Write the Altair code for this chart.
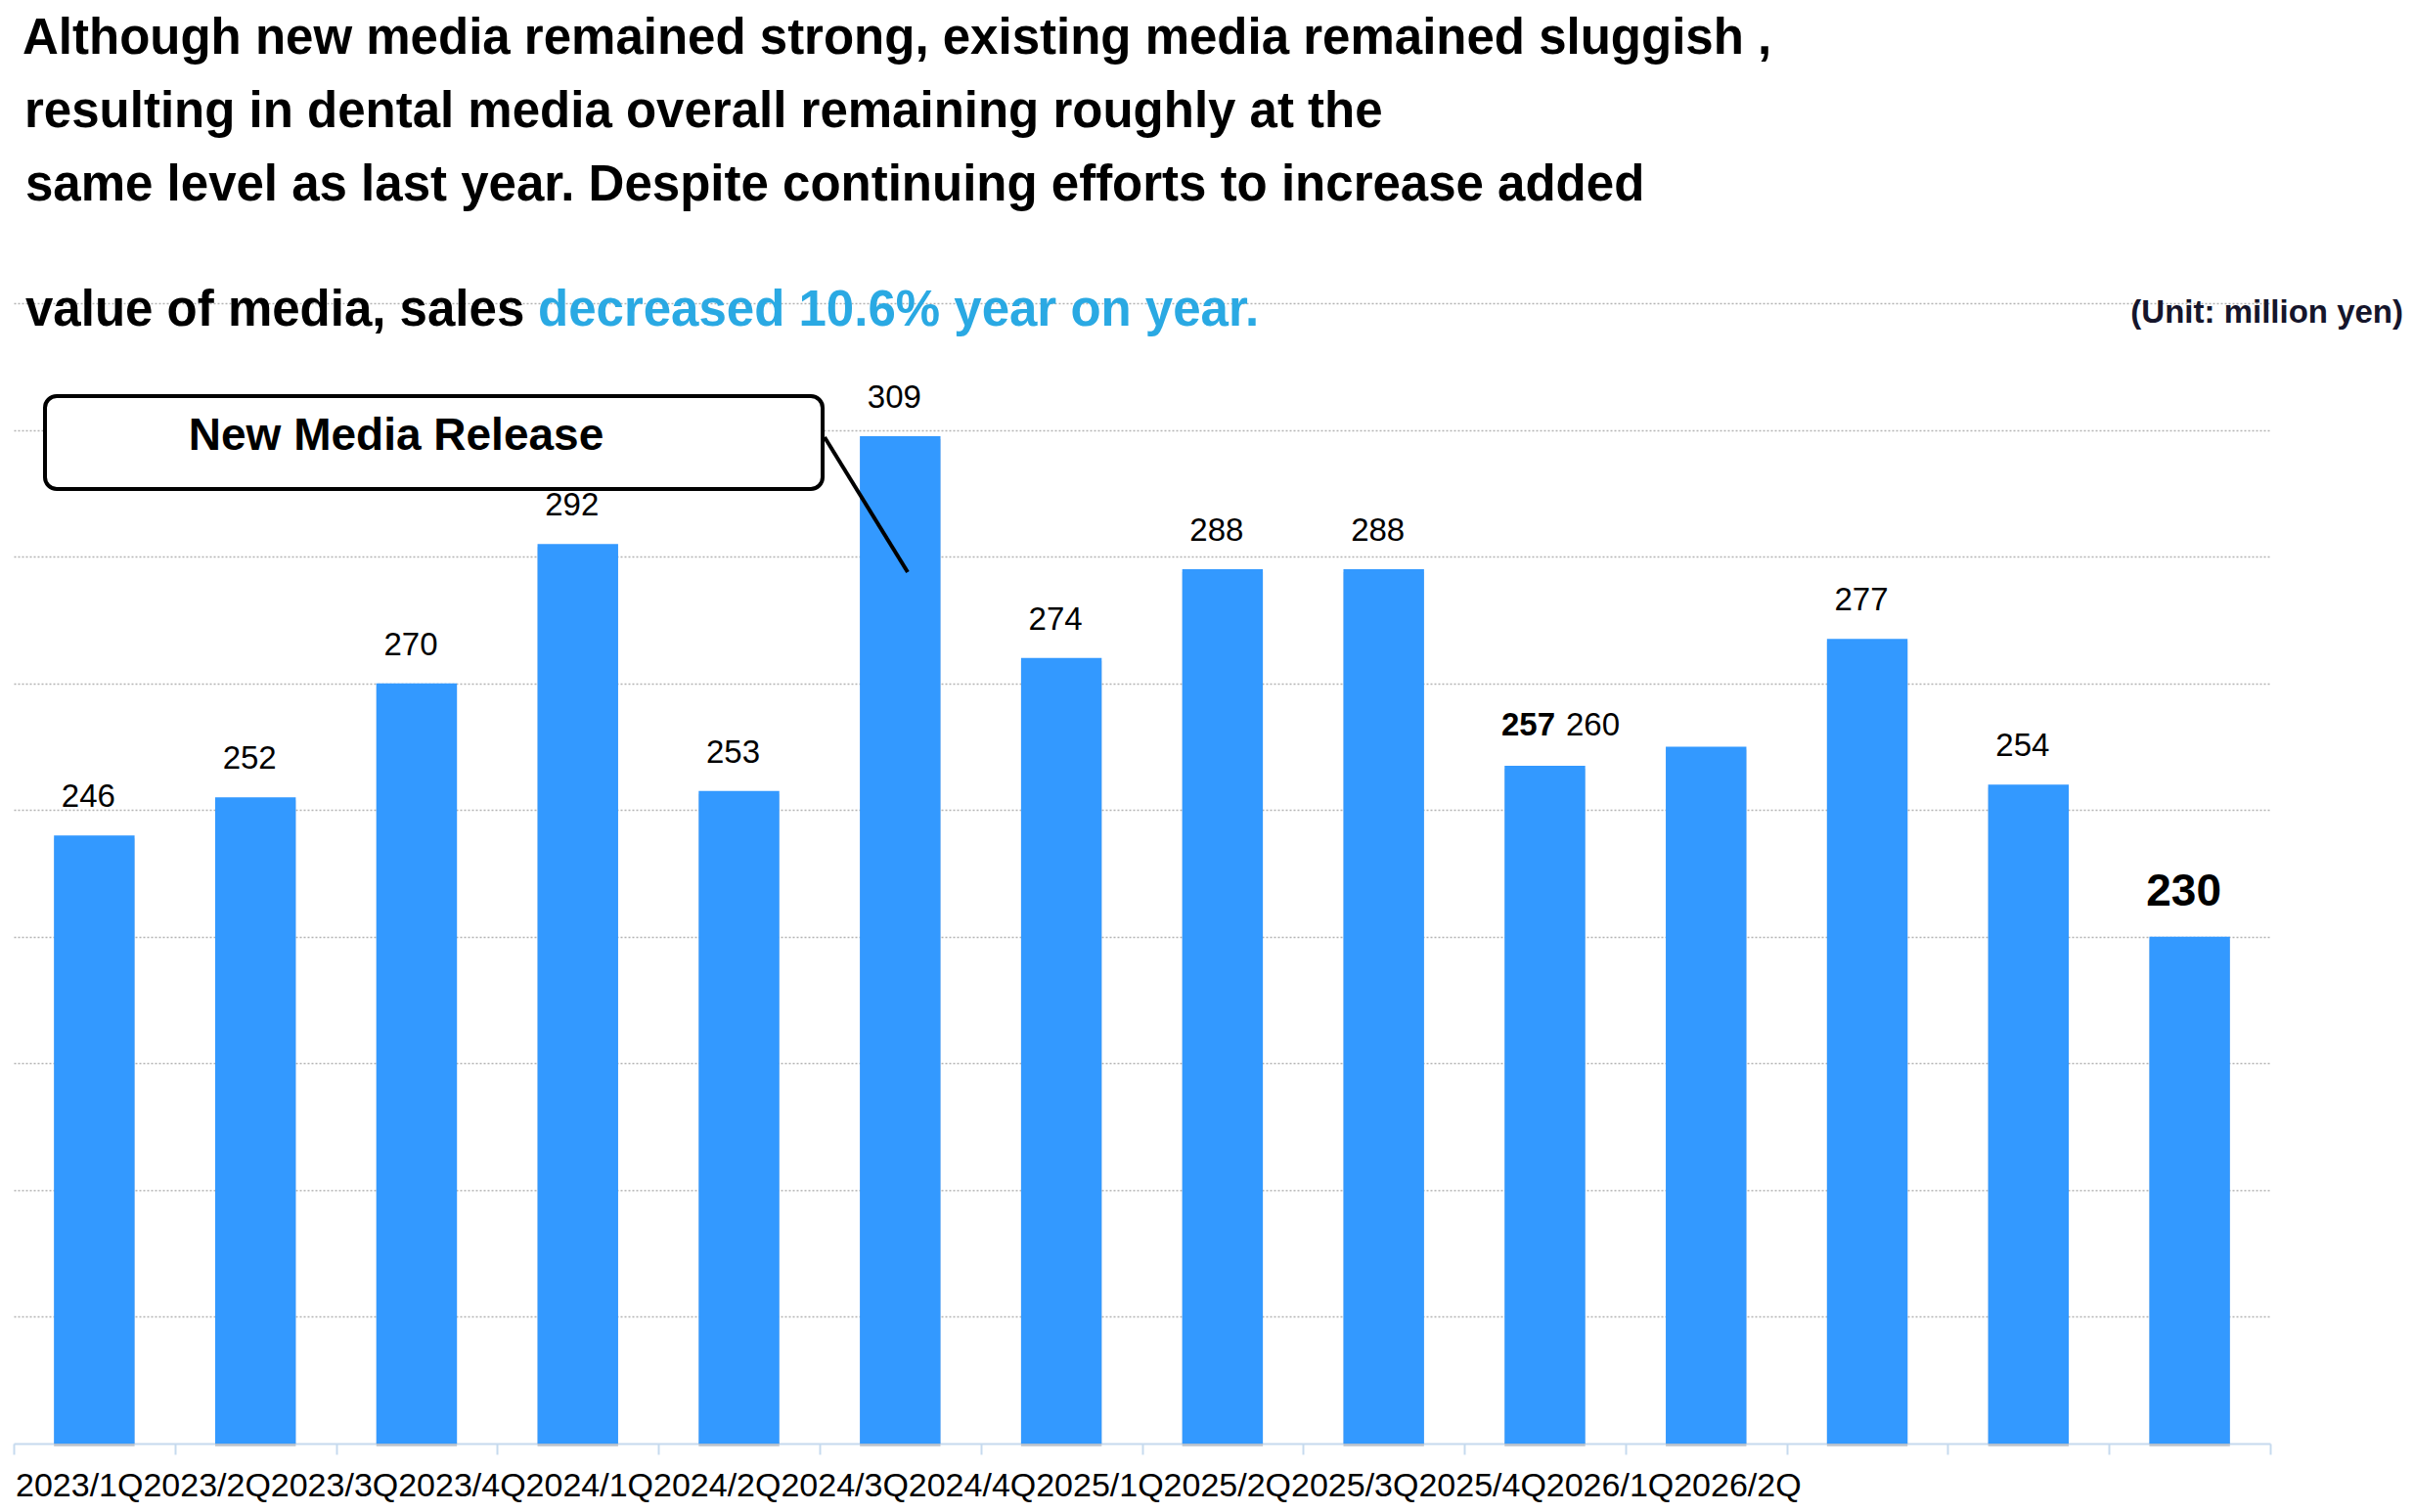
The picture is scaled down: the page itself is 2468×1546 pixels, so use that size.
import altair as alt
import pandas as pd

# ---------------- data ----------------
quarters = ["2023/1Q", "2023/2Q", "2023/3Q", "2023/4Q",
            "2024/1Q", "2024/2Q", "2024/3Q", "2024/4Q",
            "2025/1Q", "2025/2Q", "2025/3Q", "2025/4Q",
            "2026/1Q", "2026/2Q"]
sales = [246, 252, 270, 292, 253, 309, 274, 288, 288, 257, 260, 277, 254, 230]

title_lines = [
    "Although new media remained strong, existing media remained sluggish ,",
    "resulting in dental media overall remaining roughly at the",
    "same level as last year. Despite continuing efforts to increase added",
    "value of media, sales ",
]
highlight_text = "decreased 10.6% year on year."
unit_text = "(Unit: million yen)"
callout_text = "New Media Release"

y_domain = [150, 330]
grid_values = [170, 190, 210, 230, 250, 270, 290, 310, 330]

# ---------------- style ----------------
W, H = 2307, 1166
N = len(quarters)
STEP = W / N
BARW = STEP * 0.5
FONT = "Liberation Sans"
BAR = "#3399ff"
BLUE_TEXT = "#2aa9e3"
AXIS_BLUE = "#c6daee"
LABEL_RATIO = 130.4 / STEP   # the category labels run together, narrower than a step

df = pd.DataFrame({"quarter": quarters, "sales": sales,
                   "idx": list(range(N))})
df["label"] = df["sales"].astype(str)

# the label of 2026/1Q sits beside the 2025/4Q label in the original
pair = pd.DataFrame({"idx": [9], "sales": [sales[9]], "label": [str(sales[10])]})

xscale = alt.Scale(domain=[0, N], nice=False, zero=True, padding=0)
yscale = alt.Scale(domain=y_domain, zero=False, nice=False)

XAXIS = alt.Axis(title=None, labels=False, grid=False,
                 values=list(range(N + 1)),
                 domainColor=AXIS_BLUE, domainWidth=2,
                 tickColor=AXIS_BLUE, tickWidth=2, tickSize=11)
YAXIS = alt.Axis(title=None, labels=False, ticks=False, domain=False,
                 grid=True, values=grid_values, gridDash=[2, 2],
                 gridColor="#b3b3b3", gridWidth=1.5)

base = alt.Chart(df).transform_calculate(xc="datum.idx + 0.5")

XC = alt.X("xc:Q", scale=xscale, axis=XAXIS)
YV = alt.Y("sales:Q", scale=yscale, axis=YAXIS)

shadow = base.mark_bar(color="#8d97a3", opacity=0.45, size=BARW, orient="vertical",
                       yOffset=3, y2Offset=3).encode(
    x=XC, y=YV, y2=alt.datum(y_domain[0]))

bars = base.mark_bar(color=BAR, size=BARW, orient="vertical").encode(
    x=XC, y=YV, y2=alt.datum(y_domain[0]))

lab_normal = base.transform_filter(
    "datum.idx != 9 && datum.idx != 10 && datum.idx != 13"
).mark_text(font=FONT, fontSize=33, color="black", baseline="alphabetic",
            dx=-6, dy=-29).encode(x=XC, y=YV, text="label:N")

lab_bold = base.transform_filter("datum.idx == 9").mark_text(
    font=FONT, fontSize=33, fontWeight="bold", color="black",
    baseline="alphabetic", dx=-17, dy=-31).encode(x=XC, y=YV, text="label:N")

lab_pair = alt.Chart(pair).transform_calculate(xc="datum.idx + 0.5").mark_text(
    font=FONT, fontSize=33, color="black", baseline="alphabetic",
    dx=49, dy=-31).encode(x=XC, y=YV, text="label:N")

lab_last = base.transform_filter("datum.idx == 13").mark_text(
    font=FONT, fontSize=46, fontWeight="bold", color="black",
    baseline="alphabetic", dx=-6, dy=-32).encode(x=XC, y=YV, text="label:N")

xlabels = base.transform_calculate(lx=f"datum.idx * {LABEL_RATIO}").mark_text(
    font=FONT, fontSize=34, color="black", align="left",
    baseline="alphabetic", dx=2).encode(
    x=alt.X("lx:Q", scale=xscale, axis=XAXIS),
    y=alt.value(1220),
    text="quarter:N",
)

ann = alt.Chart(pd.DataFrame({"k": [0]}))

box = ann.mark_rect(fill="white", stroke="black", strokeWidth=4, cornerRadius=12).encode(
    x=alt.value(32), x2=alt.value(827), y=alt.value(95), y2=alt.value(190))
leader = ann.mark_rule(color="black", strokeWidth=4).encode(
    x=alt.value(829), y=alt.value(137), x2=alt.value(914), y2=alt.value(275))
box_text = ann.mark_text(font=FONT, fontSize=46, fontWeight="bold", color="black",
                         align="center", baseline="alphabetic").encode(
    x=alt.value(391), y=alt.value(150), text=alt.value(callout_text))

title_pos = [(9, -255), (11, -180), (12, -105), (12, 23)]
titles = [
    ann.mark_text(font=FONT, fontSize=51, fontWeight="bold", color="black",
                  align="left", baseline="alphabetic").encode(
        x=alt.value(px), y=alt.value(py), text=alt.value(line))
    for line, (px, py) in zip(title_lines, title_pos)
]
highlight = ann.mark_text(font=FONT, fontSize=51, fontWeight="bold", color=BLUE_TEXT,
                          align="left", baseline="alphabetic").encode(
    x=alt.value(536), y=alt.value(23), text=alt.value(highlight_text))
unit = ann.mark_text(font=FONT, fontSize=33, fontWeight="bold", color="#15152b",
                     align="right", baseline="alphabetic").encode(
    x=alt.value(2443), y=alt.value(20), text=alt.value(unit_text))

chart = alt.layer(shadow, bars, lab_normal, lab_bold, lab_pair, lab_last, xlabels,
                  box, leader, box_text, *titles, highlight, unit).properties(
    width=W, height=H,
    autosize=alt.AutoSizeParams(type="none"),
    padding={"left": 6, "top": 302, "right": 137, "bottom": 62},
    background="white",
).configure_view(stroke=None)

chart.save("out.html", embed_options={"renderer": "svg", "actions": False})
